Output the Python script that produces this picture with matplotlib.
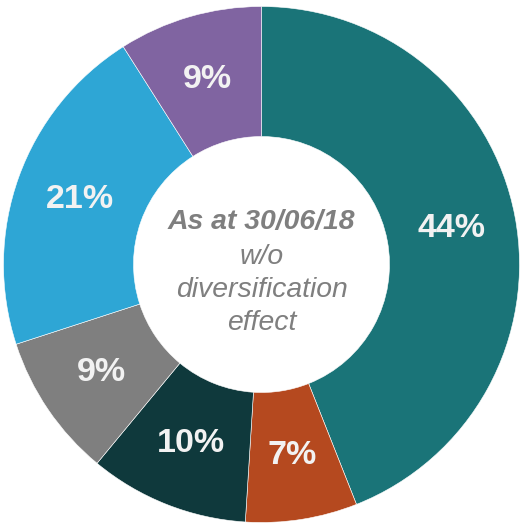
import matplotlib
matplotlib.use("Agg")
import matplotlib.pyplot as plt

labels = ["44%", "7%", "10%", "9%", "21%", "9%"]
values = [44, 7, 10, 9, 21, 9]
colors = ["#1a7478", "#b5491f", "#0f393c", "#7f7f7f", "#2ea6d5", "#8064a1"]
center_lines = ["As at 30/06/18", "w/o", "diversification", "effect"]

W, H = 529, 525
cx, cy = 261.5, 264.5
R_out, R_in = 258, 128

fig = plt.figure(figsize=(W / 100, H / 100), dpi=100)
ax = fig.add_axes([0, 0, 1, 1])
ax.set_xlim(-cx, W - cx)
ax.set_ylim(-(H - cy), cy)
ax.axis("off")

wedges, texts = ax.pie(values, colors=colors, startangle=90, counterclock=False,
                       radius=R_out, labels=labels, labeldistance=(R_out + R_in) / 2 / R_out,
                       wedgeprops=dict(width=R_out - R_in, edgecolor="white", linewidth=0.4),
                       textprops=dict(color="#f2f2f2", fontsize=24.5, fontweight="bold",
                                      family="Liberation Sans", ha="center", va="center"))
ax.set_xlim(-cx, W - cx)
ax.set_ylim(-(H - cy), cy)
ax.set_aspect("auto")

ys = [cy - 222, cy - 257, cy - 290, cy - 323]
for i, (t, y) in enumerate(zip(center_lines, ys)):
    ax.text(0, y, t, ha="center", va="center", fontsize=20.4, color="#7f7f7f",
            family="Liberation Sans", style="italic",
            fontweight="bold" if i == 0 else "normal")

fig.savefig("out.png", dpi=100)
